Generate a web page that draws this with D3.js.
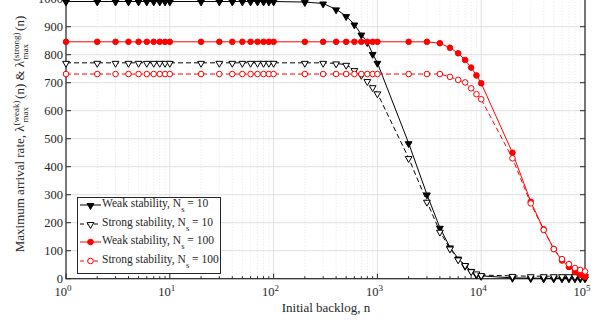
<!DOCTYPE html>
<head>
  <meta charset="utf-8">
  <title>Arrival rate</title>
  <style>
      body { margin: 0; background: #fff; }
      svg text { font-family: "Liberation Serif", "Times New Roman", serif; }
  </style>
  <script src="https://d3js.org/d3.v7.js"></script>
</head>
<body>
<svg id="chart" width="598" height="323"></svg>
<script>
    // backlog values (x) for each series
    const nWeak10 = [1,2,3,4,5,6,7,8,9,10,20,30,40,50,60,70,80,90,100,200,300,400,500,600,700,800,900,1000,
        2000,3000,4000,5000,6000,7000,8000,9000,10000,20000,30000,40000,50000,60000,70000,80000,90000,100000];
    const nStrong10 = nWeak10;
    const nWeak100 = nWeak10;
    const nStrong100 = nWeak10;

    const weak10 = [990,990,990,990,990,990,990,990,990,990,990,990,990,990,990,990,990,990,990,
        988,983,962,938,908,872,845,803,771,
        484,301,182,112,72,46,28,15,10,3,2,1,1,1,1,1,1,1];
    const strong10 = [771,771,771,771,771,771,771,771,771,771,771,771,771,771,771,771,771,771,771,
        771,771,769,764,745,728,706,684,662,
        431,275,168,108,69,49,27,19,13,10,9,9,9,9,9,9,9,9];
    const weak100 = [846,846,846,846,846,846,846,846,846,846,846,846,846,846,846,846,846,846,846,
        846,846,846,846,846,846,846,846,846,
        846,846,841,825,805,781,754,726,698,450,275,176,106,65,42,24,14,7];
    const strong100 = [731,731,731,731,731,731,731,731,731,731,731,731,731,731,731,731,731,731,731,
        731,731,731,731,731,731,731,731,731,
        731,731,731,721,710,701,680,659,641,430,269,174,106,70,52,38,31,26];

    const legendLabels = ["Weak stability, N", "Strong stability, N", "Weak stability, N", "Strong stability, N"];
    const legendNs = ["10", "10", "100", "100"];
    const yTicks = [0,100,200,300,400,500,600,700,800,900,1000];
    const xTicks = [1,10,100,1000,10000,100000];

    const svg = d3.select("#chart");
    const x = d3.scaleLog().domain([1, 100000]).range([66, 585]);
    const y = d3.scaleLinear().domain([0, 1000]).range([278.7, -1.3]);

    const x0 = 66, x1 = 585, yb = y(0), yt = y(1000);
    const txt = "#262626";

    // grid
    const minor = [];
    for (let d = 1; d < 100000; d *= 10) {
        for (let k = 2; k <= 9; k++) minor.push(d * k);
    }
    svg.append("g").selectAll("line").data(minor).join("line")
        .attr("x1", d => x(d)).attr("x2", d => x(d))
        .attr("y1", yt).attr("y2", yb)
        .attr("stroke", "#d0d0d0").attr("stroke-width", 0.6)
        .attr("stroke-dasharray", "1,2");
    svg.append("g").selectAll("line").data(xTicks).join("line")
        .attr("x1", d => x(d)).attr("x2", d => x(d))
        .attr("y1", yt).attr("y2", yb)
        .attr("stroke", "#e0e0e0").attr("stroke-width", 1);
    svg.append("g").selectAll("line").data(yTicks).join("line")
        .attr("x1", x0).attr("x2", x1)
        .attr("y1", d => y(d)).attr("y2", d => y(d))
        .attr("stroke", "#e0e0e0").attr("stroke-width", 1);

    // axes box
    const axisColor = "#262626";
    svg.append("rect").attr("x", x0).attr("y", yt).attr("width", x1 - x0).attr("height", yb - yt)
        .attr("fill", "none").attr("stroke", axisColor).attr("stroke-width", 1.2);

    // y ticks (inward, left and right)
    const yt_g = svg.append("g");
    yTicks.forEach(t => {
        yt_g.append("line").attr("x1", x0).attr("x2", x0 + 5).attr("y1", y(t)).attr("y2", y(t))
            .attr("stroke", axisColor);
        yt_g.append("line").attr("x1", x1).attr("x2", x1 - 5).attr("y1", y(t)).attr("y2", y(t))
            .attr("stroke", axisColor);
        yt_g.append("text").attr("x", x0 - 3).attr("y", y(t) + 4)
            .attr("text-anchor", "end").attr("fill", txt).style("font-size", "12.5px").text(t);
    });

    // x ticks
    const xt_g = svg.append("g");
    xTicks.forEach(t => {
        xt_g.append("line").attr("x1", x(t)).attr("x2", x(t)).attr("y1", yb).attr("y2", yb - 5)
            .attr("stroke", axisColor);
        const lbl = xt_g.append("text").attr("x", x(t) - 3).attr("y", 296)
            .attr("text-anchor", "middle").attr("fill", txt).style("font-size", "12.5px");
        lbl.append("tspan").text("10");
        lbl.append("tspan").attr("dy", -5).style("font-size", "9px").text(Math.round(Math.log10(t)));
    });
    minor.forEach(t => {
        xt_g.append("line").attr("x1", x(t)).attr("x2", x(t)).attr("y1", yb).attr("y2", yb - 2.5)
            .attr("stroke", axisColor);
    });

    // axis labels
    svg.append("text").attr("x", 326).attr("y", 312).attr("text-anchor", "middle")
        .attr("fill", txt).style("font-size", "13px").text("Initial backlog, n");

    const yl = svg.append("text").attr("transform", "translate(24,134) rotate(-90)")
        .attr("text-anchor", "middle").attr("fill", txt).style("font-size", "13px");
    yl.append("tspan").text("Maximum arrival rate, \u03bb");
    yl.append("tspan").attr("dy", -5).style("font-size", "9px").text("(weak)");
    yl.append("tspan").attr("dx", -22).attr("dy", 9).style("font-size", "9px").text("max");
    yl.append("tspan").attr("dx", 8).attr("dy", -4).text("(n) & \u03bb");
    yl.append("tspan").attr("dy", -5).style("font-size", "9px").text("(strong)");
    yl.append("tspan").attr("dx", -27).attr("dy", 9).style("font-size", "9px").text("max");
    yl.append("tspan").attr("dx", 13).attr("dy", -4).text("(n)");

    // series
    const series = [
        {xs: nWeak10, ys: weak10, color: "#000", dash: null, marker: "tri", fill: "#000"},
        {xs: nStrong10, ys: strong10, color: "#000", dash: "5,3", marker: "tri", fill: "#fff"},
        {xs: nWeak100, ys: weak100, color: "#ff0000", dash: null, marker: "circ", fill: "#ff0000"},
        {xs: nStrong100, ys: strong100, color: "#ff0000", dash: "5,3", marker: "circ", fill: "#fff"}
    ];

    const line = d3.line().x(d => x(d[0])).y(d => y(d[1]));
    const tri = d3.symbol().type(d3.symbolTriangle).size(20);

    function drawMarker(g, s, cx, cy) {
        if (s.marker === "tri") {
            g.append("path").attr("d", tri())
                .attr("transform", `translate(${cx},${cy + 0.5}) rotate(180)`)
                .attr("fill", s.fill).attr("stroke", s.color).attr("stroke-width", 1);
        } else {
            g.append("circle").attr("cx", cx).attr("cy", cy).attr("r", 2.8)
                .attr("fill", s.fill).attr("stroke", s.color).attr("stroke-width", 1);
        }
    }

    const plot = svg.append("g");
    series.forEach(s => {
        const pts = s.xs.map((v, i) => [v, s.ys[i]]);
        plot.append("path").datum(pts).attr("d", line)
            .attr("fill", "none").attr("stroke", s.color).attr("stroke-width", 1)
            .attr("stroke-dasharray", s.dash);
        pts.forEach(p => drawMarker(plot, s, x(p[0]), y(p[1])));
    });

    // legend
    const lg = svg.append("g");
    lg.append("rect").attr("x", 77.5).attr("y", 197.5).attr("width", 143).attr("height", 76)
        .attr("fill", "#fff").attr("stroke", axisColor).attr("stroke-width", 1);
    const rowY = [205, 224, 242, 261];
    series.forEach((s, i) => {
        const ry = rowY[i];
        lg.append("line").attr("x1", 80).attr("x2", 101).attr("y1", ry).attr("y2", ry)
            .attr("stroke", s.color).attr("stroke-dasharray", s.dash ? "4,3" : null);
        drawMarker(lg, s, 90.5, ry);
        const t = lg.append("text").attr("x", 102).attr("y", ry + 2).attr("fill", txt)
            .style("font-size", "11.5px");
        t.append("tspan").text(legendLabels[i]);
        t.append("tspan").attr("dy", 5).style("font-size", "8.5px").text("s");
        t.append("tspan").attr("dy", -5).text(" = " + legendNs[i]);
    });
</script>
</body>
